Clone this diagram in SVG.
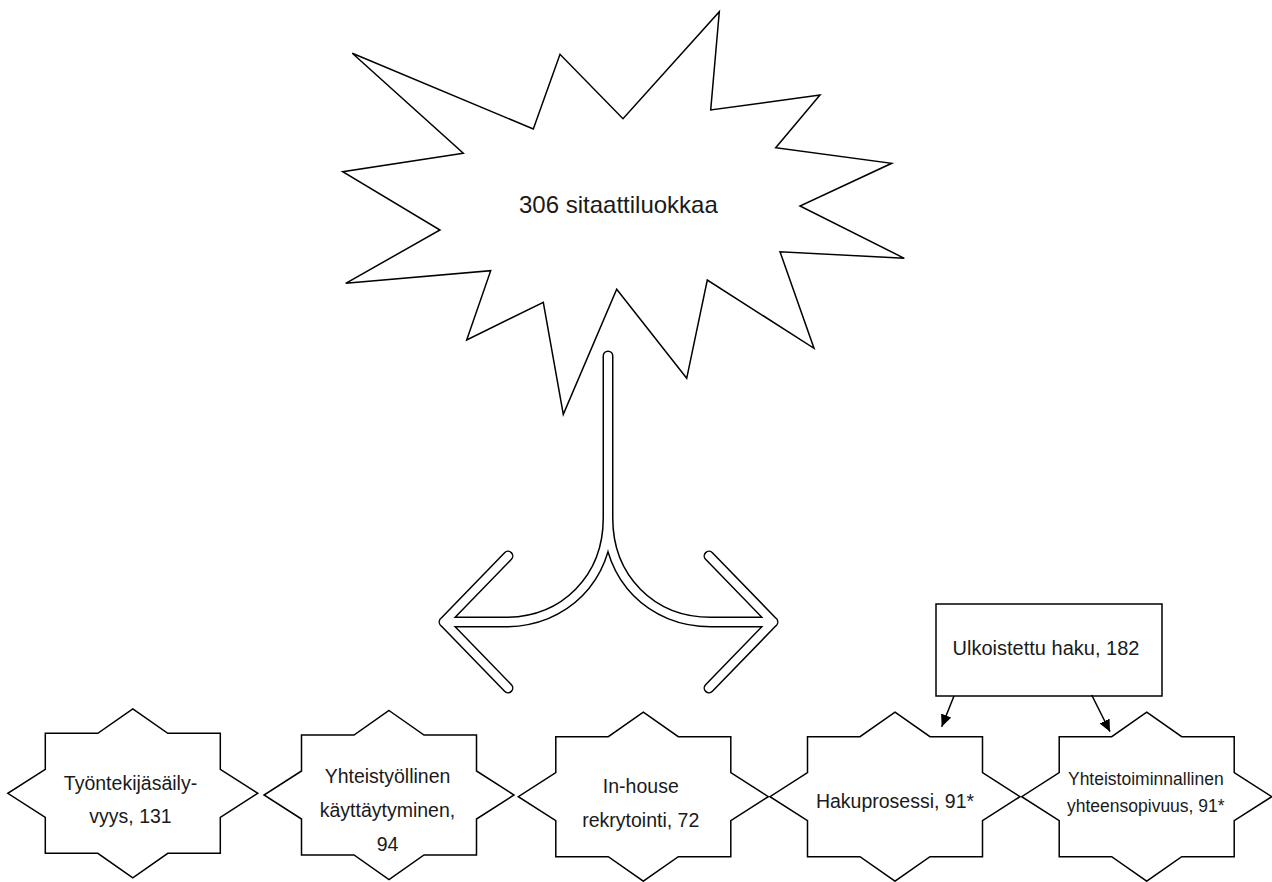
<svg xmlns="http://www.w3.org/2000/svg" xmlns:xlink="http://www.w3.org/1999/xlink" width="1272" height="882" viewBox="0 0 1272 882">
<style>
.shape{fill:#fff;stroke:#000;stroke-width:1.5;stroke-linejoin:miter}
.t{font-family:"Liberation Sans",Arial,sans-serif;fill:#1a1a1a;text-anchor:middle}
.big{font-size:24px}
.m{font-size:19.5px}
.s{font-size:17.5px}
.dbl-o{fill:none;stroke:#000;stroke-width:11;stroke-linecap:round;stroke-linejoin:round}
.dbl-i{fill:none;stroke:#fff;stroke-width:8;stroke-linecap:round;stroke-linejoin:round}
.edge{fill:none;stroke:#000;stroke-width:1.5}
</style>
<defs>
<polygon id="star8" points="0,-84.5 35,-60 87.5,-60 87.5,-24 125,0 87.5,24 87.5,60 35,60 0,84.5 -35,60 -87.5,60 -87.5,24 -125,0 -87.5,-24 -87.5,-60 -35,-60"/>
<marker id="arr" markerUnits="userSpaceOnUse" markerWidth="12" markerHeight="11" refX="12" refY="5.5" orient="auto">
<path d="M0,0 L12,5.5 L0,11 z" fill="#000"/>
</marker>
</defs>
<rect width="1272" height="882" fill="#fff"/>

<g id="node-main">
<polygon class="shape" points="352.3,53.3 533.3,129 560,54.3 623,118.7 719.3,11.7 710.7,110 820,95 775.7,147.7 891.7,163.3 800,206 904.3,258.3 780,251.7 814,348.3 707.3,280 686.7,378.3 616.7,289.3 563.3,414.3 543.3,302.3 466.7,340 490.7,270.7 345.7,283.3 440,230 342.7,171.7 463.3,153.3"/>
<text class="t big" x="618.4" y="213">306 sitaattiluokkaa</text>
</g>

<g id="node-box">
<rect class="shape" x="936" y="604" width="226" height="92"/>
<text class="t" style="font-size:20px" x="1046" y="655">Ulkoistettu haku, 182</text>
</g>

<g id="node-1">
<use xlink:href="#star8" class="shape" transform="translate(132.8,793.3)"/>
<text class="t m" x="130.5" y="790">Työntekijäsäily-</text>
<text class="t m" x="130.5" y="823.3">vyys, 131</text>
</g>

<g id="node-2">
<use xlink:href="#star8" class="shape" transform="translate(389,795)"/>
<text class="t m" x="387.5" y="783.3">Yhteistyöllinen</text>
<text class="t m" x="387.5" y="817.3">käyttäytyminen,</text>
<text class="t m" x="387.5" y="850.7">94</text>
</g>

<g id="node-3">
<use xlink:href="#star8" class="shape" transform="translate(643.3,796.7)"/>
<text class="t m" x="640.8" y="793.3">In-house</text>
<text class="t m" x="640.8" y="826.7">rekrytointi, 72</text>
</g>

<g id="node-4">
<use xlink:href="#star8" class="shape" transform="translate(895,796.7)"/>
<text class="t m" x="895" y="808.3">Hakuprosessi, 91*</text>
</g>

<g id="node-5">
<use xlink:href="#star8" class="shape" transform="translate(1146.7,796.7)"/>
<text class="t s" x="1145.8" y="785">Yhteistoiminnallinen</text>
<text class="t s" x="1145.8" y="811.7">yhteensopivuus, 91*</text>
</g>

<g id="connectors">
<g id="split-arrow">
<path class="dbl-o" d="M608,356 V518 C608,578 565,622 505,622 H444 M608,518 C608,578 651,622 711,622 H773 M508,556 L444,622 L508,688 M709,556 L773,622 L709,688"/>
<path class="dbl-i" d="M608,356 V518 C608,578 565,622 505,622 H444 M608,518 C608,578 651,622 711,622 H773 M508,556 L444,622 L508,688 M709,556 L773,622 L709,688"/>
</g>
<line class="edge" x1="954" y1="696" x2="941.7" y2="726.7" marker-end="url(#arr)"/>
<line class="edge" x1="1091.7" y1="695" x2="1110" y2="731.7" marker-end="url(#arr)"/>
</g>
</svg>
